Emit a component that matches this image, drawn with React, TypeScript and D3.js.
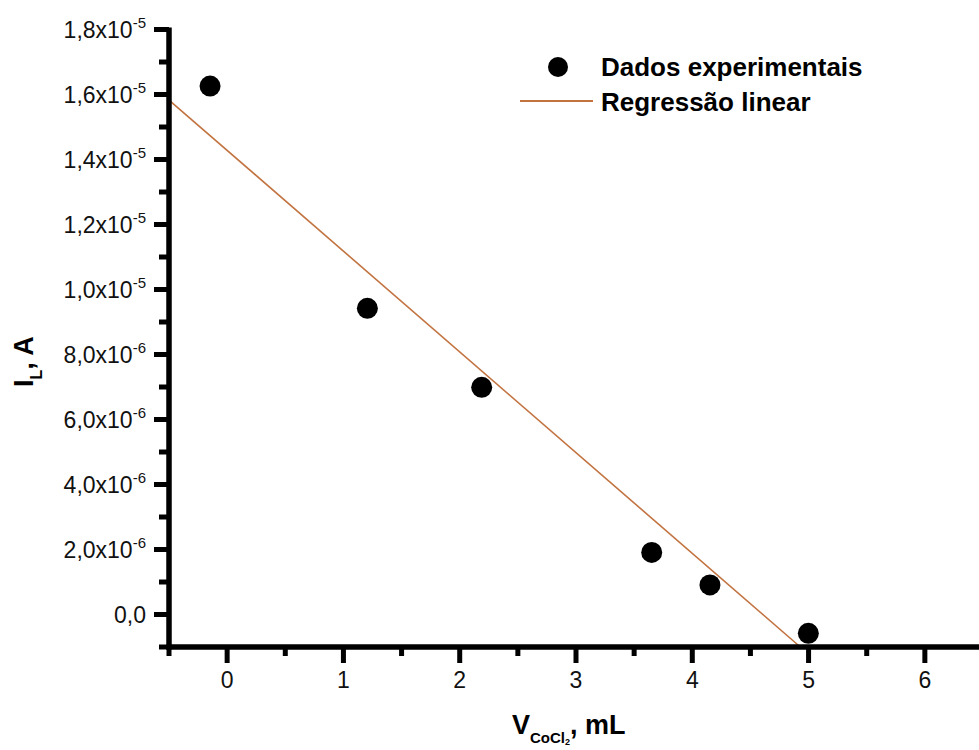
import React from "react";
import * as d3 from "d3";

// ---- data ----
const volumes = [-0.147, 1.206, 2.189, 3.651, 4.152, 4.998]; // mL
const currents = [1.626e-5, 9.42e-6, 6.99e-6, 1.91e-6, 9.1e-7, -5.8e-7]; // A
const fitSlope = -3.1e-6;
const fitIntercept = 1.428e-5;

const xMajorTicks = [0, 1, 2, 3, 4, 5, 6];
const xMinorTicks = [-0.5, 0.5, 1.5, 2.5, 3.5, 4.5, 5.5, 6.5];
const yMajorTicks = [0, 2e-6, 4e-6, 6e-6, 8e-6, 1e-5, 1.2e-5, 1.4e-5, 1.6e-5, 1.8e-5];
const yTickBase = ["0,0", "2,0x10", "4,0x10", "6,0x10", "8,0x10", "1,0x10", "1,2x10", "1,4x10", "1,6x10", "1,8x10"];
const yTickExp = ["", "-6", "-6", "-6", "-6", "-5", "-5", "-5", "-5", "-5"];
const yMinorTicks = [-1e-6, 1e-6, 3e-6, 5e-6, 7e-6, 9e-6, 1.1e-5, 1.3e-5, 1.5e-5, 1.7e-5];

const legendLabels = ["Dados experimentais", "Regressão linear"];

const FONT = "'Liberation Sans', Arial, Helvetica, sans-serif";
const LINE_COLOR = "#c27340";

export default function App() {
  const W = 979;
  const H = 750;
  const x = d3.scaleLinear().domain([-0.5, 6.5]).range([169, 983]);
  const y = d3.scaleLinear().domain([-1e-6, 1.8e-5]).range([647, 29.5]);
  const x0 = x(-0.5);
  const yBottom = y(-1e-6);

  const xFitEnd = (y.domain()[0] - fitIntercept) / fitSlope;
  const fitPts: [number, number][] = [
    [-0.5, fitIntercept + fitSlope * -0.5],
    [xFitEnd, fitIntercept + fitSlope * xFitEnd],
  ];
  const fitLine = d3
    .line<[number, number]>()
    .x((d) => x(d[0]))
    .y((d) => y(d[1]))(fitPts);

  return (
    <svg
      width={W}
      height={H}
      style={{ position: "absolute", left: 0, top: 0, background: "#fff" }}
      fontFamily={FONT}
    >
      <rect width={W} height={H} fill="#fff" />
      {/* regression line */}
      <path d={fitLine || ""} stroke={LINE_COLOR} strokeWidth={1.6} fill="none" />

      {/* axes */}
      <line x1={x0} x2={x0} y1={y(1.8e-5) - 2} y2={yBottom + 2.5} stroke="#000" strokeWidth={5.5} />
      <line x1={x0 - 2.5} x2={W + 10} y1={yBottom} y2={yBottom} stroke="#000" strokeWidth={5.5} />

      {/* y ticks */}
      {yMajorTicks.map((v, i) => (
        <g key={"ym" + i}>
          <line x1={x0 - 15} x2={x0} y1={y(v)} y2={y(v)} stroke="#000" strokeWidth={5} />
          <text x={146} y={y(v) + 8} textAnchor="end" fontSize={23} fill="#111">
            {yTickBase[i]}
            {yTickExp[i] && (
              <tspan fontSize={15} dy={-10}>
                {yTickExp[i]}
              </tspan>
            )}
          </text>
        </g>
      ))}
      {yMinorTicks.map((v, i) => (
        <line key={"yn" + i} x1={x0 - 10} x2={x0} y1={y(v)} y2={y(v)} stroke="#000" strokeWidth={5} />
      ))}

      {/* x ticks */}
      {xMajorTicks.map((v, i) => (
        <g key={"xm" + i}>
          <line x1={x(v)} x2={x(v)} y1={yBottom} y2={yBottom + 16} stroke="#000" strokeWidth={5} />
          <text x={x(v)} y={688} textAnchor="middle" fontSize={23} fill="#111">
            {String(v)}
          </text>
        </g>
      ))}
      {xMinorTicks.map((v, i) => (
        <line key={"xn" + i} x1={x(v)} x2={x(v)} y1={yBottom} y2={yBottom + 9} stroke="#000" strokeWidth={5} />
      ))}

      {/* data points */}
      {volumes.map((v, i) => (
        <circle key={"p" + i} cx={x(v)} cy={y(currents[i])} r={10.5} fill="#000" />
      ))}

      {/* legend */}
      <circle cx={558} cy={67} r={10} fill="#000" />
      <text x={601} y={76} fontSize={26} fontWeight="bold" fill="#000">
        {legendLabels[0]}
      </text>
      <line x1={520} x2={593} y1={101} y2={101} stroke={LINE_COLOR} strokeWidth={1.8} />
      <text x={601} y={111} fontSize={26} fontWeight="bold" fill="#000">
        {legendLabels[1]}
      </text>

      {/* x title */}
      <text x={512} y={734} fontSize={27} fontWeight="bold" fill="#000">
        V
        <tspan fontSize={15} dy={9}>
          CoCl
        </tspan>
        <tspan fontSize={9} dy={2}>
          2
        </tspan>
        <tspan fontSize={27} dy={-11}>
          , mL
        </tspan>
      </text>

      {/* y title */}
      <text
        transform="translate(33,387) rotate(-90)"
        fontSize={27}
        fontWeight="bold"
        fill="#000"
      >
        I
        <tspan fontSize={16} dy={9}>
          L
        </tspan>
        <tspan fontSize={27} dy={-9}>
          , A
        </tspan>
      </text>
    </svg>
  );
}
